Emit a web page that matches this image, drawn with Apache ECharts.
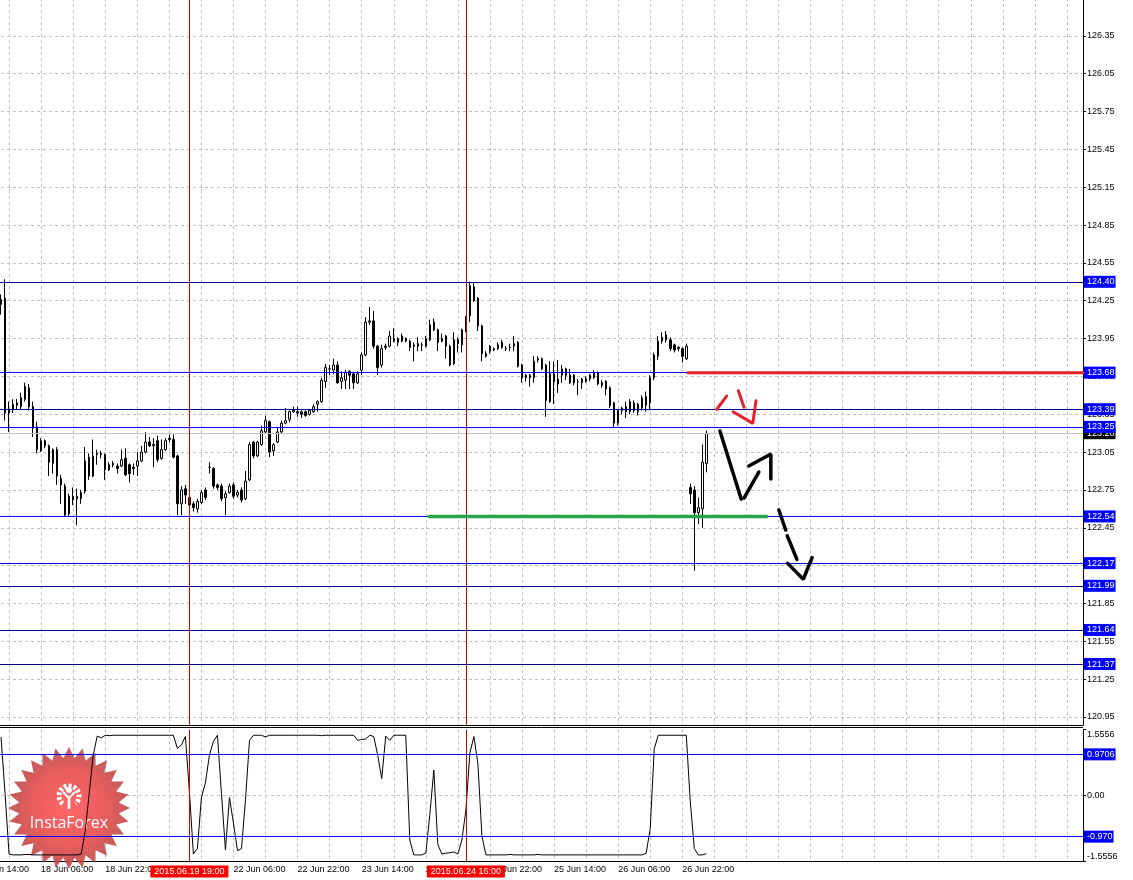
<!DOCTYPE html>
<html><head><meta charset="utf-8">
<script src="https://cdn.jsdelivr.net/npm/echarts@6/dist/echarts.min.js"></script>
<style>html,body{margin:0;padding:0;background:#fff;}#c{width:1133px;height:880px;}</style>
</head><body><div id="c"></div>
<script>
// ---- data (H1 bars, first bar = 17 Jun 20:00) ----
const opens = [
124.22,124.27,123.36,123.39,123.42,123.41,123.47,123.56,123.41,123.25,
123.06,123.14,123.10,122.96,123.07,122.84,122.78,122.56,122.70,122.68,
122.68,122.74,123.01,122.86,123.03,123.04,123.03,122.91,122.96,122.94,
122.94,123.00,122.95,122.93,122.94,122.98,123.05,123.13,123.10,123.14,
123.00,123.07,123.16,123.15,123.02,122.64,122.76,122.69,122.64,122.60,
122.65,122.75,122.93,122.92,122.79,122.78,122.69,122.73,122.79,122.71,
122.75,122.68,122.83,123.13,123.02,123.11,123.21,123.29,123.06,123.13,
123.21,123.28,123.31,123.37,123.37,123.37,123.37,123.35,123.37,123.43,
123.45,123.61,123.71,123.70,123.74,123.61,123.62,123.69,123.67,123.60,
123.70,123.82,124.08,124.09,123.89,123.74,123.88,123.89,123.95,123.92,
123.97,123.95,123.93,123.90,123.89,123.90,123.89,123.94,124.08,124.02,
123.93,123.97,123.89,123.75,123.94,123.90,124.12,124.13,124.36,124.27,
124.05,123.83,123.85,123.87,123.87,123.92,123.87,123.88,123.89,123.92,
123.74,123.66,123.66,123.64,123.79,123.79,123.74,123.45,123.67,123.59,
123.66,123.71,123.66,123.66,123.61,123.60,123.61,123.63,123.64,123.68,
123.60,123.61,123.56,123.44,123.28,123.40,123.41,123.37,123.44,123.43,
123.40,123.42,123.44,123.64,123.81,123.93,123.98,123.94,123.90,123.87,
123.87,123.79,122.77,122.75,122.57,122.60,122.96];
const closes = [
124.26,123.36,123.39,123.43,123.44,123.48,123.57,123.41,123.24,123.07,
123.14,123.10,122.97,123.07,122.86,122.79,122.55,122.70,122.67,122.70,
122.73,122.98,122.86,123.02,123.04,123.03,122.91,122.95,122.95,122.92,
122.99,122.87,122.88,122.92,122.98,123.05,123.13,123.10,123.11,122.99,
123.07,123.14,123.15,123.01,122.64,122.75,122.71,122.63,122.61,122.66,
122.73,122.69,122.93,122.78,122.77,122.68,122.72,122.78,122.70,122.73,
122.67,122.82,123.11,123.02,123.13,123.22,123.30,123.05,123.11,123.21,
123.28,123.30,123.37,123.38,123.36,123.35,123.34,123.38,123.41,123.45,
123.62,123.72,123.71,123.74,123.60,123.64,123.68,123.66,123.60,123.67,
123.82,124.08,124.09,123.89,123.72,123.87,123.89,123.97,123.93,123.95,
123.93,123.93,123.88,123.89,123.91,123.90,123.95,124.06,124.02,123.92,
123.95,123.89,123.74,123.94,123.91,124.02,124.01,124.37,124.25,124.05,
123.83,123.81,123.89,123.86,123.90,123.88,123.87,123.88,123.91,123.73,
123.64,123.64,123.64,123.77,123.78,123.71,123.46,123.67,123.61,123.63,
123.71,123.66,123.60,123.60,123.61,123.63,123.63,123.66,123.68,123.59,
123.58,123.55,123.42,123.28,123.38,123.38,123.37,123.45,123.38,123.37,
123.48,123.49,123.64,123.82,123.93,123.96,123.94,123.87,123.86,123.88,
123.81,123.89,122.72,122.57,122.61,122.97,123.20];
const lows = [
124.14,123.30,123.21,123.36,123.39,123.39,123.45,123.38,123.17,123.04,
123.05,123.08,122.86,122.88,122.79,122.64,122.54,122.54,122.63,122.47,
122.64,122.72,122.83,122.85,122.95,123.00,122.83,122.90,122.93,122.88,
122.93,122.86,122.81,122.87,122.86,122.97,123.04,123.09,122.93,122.97,
122.99,123.06,123.13,123.00,122.55,122.55,122.64,122.59,122.58,122.57,
122.64,122.67,122.88,122.76,122.75,122.66,122.55,122.72,122.68,122.69,
122.65,122.67,122.82,123.00,123.01,123.10,123.20,123.01,123.02,123.12,
123.20,123.27,123.29,123.36,123.33,123.32,123.33,123.34,123.36,123.37,
123.44,123.56,123.66,123.67,123.59,123.55,123.55,123.55,123.55,123.59,
123.66,123.81,124.06,123.87,123.66,123.72,123.86,123.88,123.92,123.89,
123.92,123.92,123.85,123.77,123.85,123.85,123.88,123.93,124.01,123.85,
123.92,123.79,123.73,123.74,123.84,123.84,124.00,124.08,124.24,124.01,
123.77,123.80,123.83,123.85,123.86,123.87,123.85,123.85,123.85,123.72,
123.60,123.61,123.57,123.60,123.76,123.70,123.33,123.44,123.43,123.52,
123.60,123.62,123.59,123.58,123.50,123.55,123.60,123.61,123.63,123.58,
123.56,123.50,123.40,123.24,123.26,123.35,123.32,123.35,123.36,123.34,
123.38,123.37,123.38,123.62,123.78,123.91,123.92,123.85,123.84,123.85,
123.76,123.78,122.64,122.11,122.48,122.45,122.89];
const highs = [
124.30,124.42,123.45,123.47,123.47,123.52,123.60,123.59,123.45,123.29,
123.16,123.15,123.11,123.08,123.09,122.87,122.80,122.72,122.77,122.76,
122.75,123.09,123.04,123.15,123.07,123.06,123.04,122.97,122.98,122.96,
123.07,123.08,122.96,122.96,123.05,123.10,123.21,123.17,123.16,123.18,
123.15,123.16,123.19,123.19,123.03,122.78,122.79,122.73,122.66,122.68,
122.75,122.77,122.97,122.93,122.80,122.80,122.74,122.80,122.81,122.75,
122.77,122.90,123.13,123.14,123.14,123.26,123.34,123.30,123.12,123.25,
123.30,123.40,123.38,123.41,123.41,123.38,123.38,123.39,123.43,123.46,
123.64,123.75,123.74,123.79,123.77,123.69,123.70,123.70,123.68,123.69,
123.84,124.12,124.20,124.17,123.90,123.90,123.91,124.01,124.03,123.96,
123.99,123.96,123.94,123.92,123.96,123.92,123.97,124.10,124.11,124.03,
123.99,123.98,123.90,124.00,123.96,124.03,124.13,124.40,124.39,124.28,
124.06,123.85,123.90,123.88,123.92,123.94,123.89,123.91,123.97,123.93,
123.75,123.67,123.67,123.81,123.81,123.80,123.75,123.77,123.77,123.78,
123.74,123.72,123.71,123.67,123.63,123.64,123.65,123.67,123.70,123.69,
123.62,123.62,123.57,123.45,123.39,123.41,123.45,123.47,123.46,123.44,
123.50,123.53,123.66,123.84,123.97,124.00,124.01,123.96,123.91,123.89,
123.88,123.91,122.80,122.78,122.69,123.11,123.22];
const indicator = [
1.38,0.05,-1.38,-1.40,-1.40,-1.40,-1.39,-1.39,-1.40,-1.40,
-1.40,-1.40,-1.40,-1.40,-1.40,-1.40,-1.40,-1.40,-1.40,-1.40,
-1.38,-0.85,0.05,0.95,1.40,1.36,1.42,1.41,1.42,1.42,
1.42,1.42,1.42,1.42,1.42,1.42,1.42,1.42,1.42,1.42,
1.42,1.42,1.42,1.42,1.11,1.19,1.39,0.10,-1.38,-1.25,
-0.05,0.30,0.95,1.28,1.42,0.05,-1.28,-0.05,-0.65,-1.30,
-1.25,-0.10,1.30,1.42,1.42,1.42,1.38,1.42,1.42,1.42,
1.42,1.42,1.42,1.42,1.42,1.42,1.42,1.42,1.42,1.42,
1.41,1.42,1.42,1.42,1.42,1.42,1.42,1.42,1.42,1.30,
1.32,1.33,1.42,1.39,0.95,0.40,1.40,1.30,1.42,1.42,
1.42,1.42,-1.05,-1.40,-1.40,-1.40,-1.36,-0.45,0.60,-1.15,
-1.38,-1.36,-1.35,-1.33,-1.38,-1.05,-0.35,1.00,1.39,0.75,
-0.95,-1.40,-1.40,-1.40,-1.40,-1.40,-1.40,-1.39,-1.40,-1.40,
-1.40,-1.40,-1.40,-1.40,-1.39,-1.40,-1.40,-1.40,-1.40,-1.40,
-1.40,-1.40,-1.40,-1.40,-1.40,-1.40,-1.40,-1.40,-1.40,-1.40,
-1.40,-1.40,-1.40,-1.40,-1.40,-1.40,-1.40,-1.40,-1.40,-1.40,
-1.40,-1.36,-0.78,1.10,1.42,1.42,1.42,1.42,1.42,1.42,
1.42,1.42,-0.15,-1.25,-1.40,-1.40,-1.37];
// time axis: slot 0 = 17 Jun 14:00, one slot per hour bar; labels every 16 slots
const tickLabels = ['17 Jun 14:00','18 Jun 06:00','18 Jun 22:00','19 Jun 14:00','22 Jun 06:00','22 Jun 22:00',
                    '23 Jun 14:00','24 Jun 06:00','24 Jun 22:00','25 Jun 14:00','26 Jun 06:00','26 Jun 22:00'];
const firstBarSlot = 6;
const totalSlots = 277;
const markerSlots = [53, 122];
const markerLabels = ['2015.06.19 19:00', '2015.06.24 16:00'];
// horizontal levels
const levelValues = [124.40, 123.68, 123.39, 123.20, 123.25, 122.54, 122.17, 121.99, 121.64, 121.37];
const indicatorLevels = [0.9706, -0.9706];
const indicatorLevelLabels = ['0.9706', '-0.970'];
// hand drawings in (slot, price)
const drawGreen = [[112.8,122.54],[197.1,122.54]];
const drawRedLevel = [[177.4,123.68],[276,123.68]];
const drawRedArrow = [
  [[184.6,123.389],[187.1,123.495]],
  [[190.0,123.537],[191.4,123.405]],
  [[188.7,123.370],[193.6,123.278],[194.4,123.458]]];
const drawBlackArrow = [
  [[185.4,123.217],[190.7,122.678]],
  [[191.4,122.686],[195.1,122.892]],
  [[192.6,122.940],[198.1,123.035],[198.1,122.837]],
  [[200.1,122.591],[201.8,122.432]],
  [[202.2,122.387],[204.6,122.200]],
  [[202.3,122.168],[206.2,122.042],[208.4,122.213]]];

// ---- styles ----
const FONT = 'Liberation Sans';
const FS = 9;
const levelLineColors = ['#00008b','#0000ff','#00008b','#c0c0c0','#0000ff','#0000ff','#0000ff','#00008b','#00008b','#00008b'];
const levelLabelBgs   = ['#0000ff','#0000ff','#0000ff','#000000','#0000ff','#0000ff','#0000ff','#0000ff','#0000ff','#0000ff'];

const categories = Array.from({length: totalSlots}, (_, s) => String(s));
const candleData = opens.map((o, i) => [i + firstBarSlot, o, closes[i], lows[i], highs[i]]);
const indData = indicator.map((v, i) => [i + firstBarSlot, v]);
const dashed = {color: '#c0c0c0', width: 1, type: [3, 3]};
const every8 = (idx) => idx % 8 === 0;
const every16 = (idx) => idx % 16 === 0 && idx / 16 < tickLabels.length;

const lvlLabel = (txt, bg) => ({show: true, position: 'end', distance: 1, formatter: txt, color: '#fff',
  backgroundColor: bg, padding: [1, 1, 1, 3], fontSize: FS, lineHeight: 10, fontFamily: FONT});

const mainMark = levelValues.map((v, k) => ({yAxis: v, lineStyle: {color: levelLineColors[k], width: 1, type: 'solid'},
  label: lvlLabel(v.toFixed(2), levelLabelBgs[k])}));
markerSlots.forEach(s => mainMark.push({xAxis: s, lineStyle: {color: '#d00000', width: 1, type: 'solid'}, label: {show: false}}));

const indMark = indicatorLevels.map((v, k) => ({yAxis: v, lineStyle: {color: '#0000ff', width: 1, type: 'solid'},
  label: lvlLabel(indicatorLevelLabels[k], '#0000ff')}));
markerSlots.forEach((s, k) => indMark.push({xAxis: s, lineStyle: {color: '#d00000', width: 1, type: 'solid'},
  label: {show: true, position: 'start', distance: 4, formatter: markerLabels[k], color: '#fff', backgroundColor: '#ff0000',
    padding: [1, 4, 1, 4], fontSize: FS, lineHeight: 10, fontFamily: FONT}}));

const drawSeries = [];
function addDraw(pts, color, width) {
  drawSeries.push({type: 'line', xAxisIndex: 3, yAxisIndex: 0, data: pts, showSymbol: false, symbol: 'none', silent: true, z: 6,
    lineStyle: {color: color, width: width, cap: 'round'}});
}
addDraw(drawGreen, '#2aa44a', 3.5);
addDraw(drawRedLevel, '#e8202a', 3);
drawRedArrow.forEach(p => addDraw(p, '#e8202a', 3));
drawBlackArrow.forEach(p => addDraw(p, '#000000', 3.5));

// logo star
const starPts = [];
for (let k = 0; k < 56; k++) {
  const a = -Math.PI / 2 + k * Math.PI / 28;
  const r = k % 2 === 0 ? 61 : 50;
  starPts.push([69 + r * Math.cos(a), 808 + r * Math.sin(a)]);
}

const chart = echarts.init(document.getElementById('c'));
chart.setOption({
  animation: false,
  backgroundColor: '#ffffff',
  textStyle: {fontFamily: FONT},
  grid: [
    {left: -23, right: 50, top: -2, height: 727, outerBoundsMode: 'none', containLabel: false},
    {left: -23, right: 50, top: -2, height: 719, outerBoundsMode: 'none', containLabel: false},
    {left: -23, right: 50, top: 729.5, height: 132, outerBoundsMode: 'none', containLabel: false}
  ],
  xAxis: [
    {type: 'category', gridIndex: 0, data: categories, boundaryGap: false,
      axisLine: {onZero: false, lineStyle: {color: '#000'}}, axisTick: {show: false}, axisLabel: {show: false},
      splitLine: {show: true, interval: every8, lineStyle: dashed}},
    {type: 'category', gridIndex: 1, data: categories, boundaryGap: false, show: false},
    {type: 'category', gridIndex: 2, data: categories, boundaryGap: false,
      axisLine: {onZero: false, lineStyle: {color: '#000'}}, axisTick: {show: false},
      axisLabel: {interval: every16, formatter: (v, idx) => tickLabels[idx / 16] || '', align: 'left', margin: 4,
        fontSize: FS, color: '#000', fontFamily: FONT},
      splitLine: {show: true, interval: every8, lineStyle: dashed}},
    {type: 'value', gridIndex: 0, min: 0, max: totalSlots - 1, show: false}
  ],
  yAxis: [
    {type: 'value', gridIndex: 0, position: 'right', min: 120.8866, max: 126.65, scale: true,
      axisLine: {show: true, onZero: false, lineStyle: {color: '#000'}}, axisTick: {show: false}, axisLabel: {show: false},
      splitLine: {show: false}},
    {type: 'value', gridIndex: 1, position: 'right', min: 120.95, max: 126.65, interval: 0.3, scale: true,
      axisLine: {show: false, onZero: false}, axisTick: {show: true, length: 3, lineStyle: {color: '#000'}},
      axisLabel: {formatter: v => v.toFixed(2), margin: 4, fontSize: FS, color: '#000', fontFamily: FONT},
      splitLine: {show: true, lineStyle: dashed}},
    {type: 'value', gridIndex: 2, position: 'right', min: -1.5556, max: 1.5556, interval: 1.5556,
      axisLine: {show: true, onZero: false, lineStyle: {color: '#000'}}, axisTick: {show: true, length: 3, lineStyle: {color: '#000'}},
      axisLabel: {margin: 4, fontSize: FS, color: '#000', fontFamily: FONT,
        formatter: v => v > 0.1 ? '{t|1.5556}' : (v < -0.1 ? '{b|-1.5556}' : '0.00'),
        rich: {t: {padding: [10, 0, 0, 0], fontSize: FS, color: '#000', fontFamily: FONT},
               b: {padding: [0, 0, 10, 0], fontSize: FS, color: '#000', fontFamily: FONT}}},
      splitLine: {show: true, showMinLine: false, showMaxLine: false, lineStyle: dashed}}
  ],
  series: [
    {type: 'candlestick', xAxisIndex: 0, yAxisIndex: 0, data: candleData, encode: {x: 0, y: [1, 2, 3, 4]},
      barWidth: 2, silent: true,
      itemStyle: {color: '#ffffff', color0: '#000000', borderColor: '#000000', borderColor0: '#000000', borderWidth: 1},
      markLine: {symbol: 'none', silent: true, animation: false, data: mainMark}},
    {type: 'line', xAxisIndex: 2, yAxisIndex: 2, data: indData, showSymbol: false, symbol: 'none', silent: true,
      lineStyle: {color: '#000', width: 1},
      markLine: {symbol: 'none', silent: true, animation: false, data: indMark}},
    ...drawSeries
  ],
  graphic: [
    {type: 'line', shape: {x1: 0, y1: 727.5, x2: 1083, y2: 727.5}, style: {stroke: '#000', lineWidth: 1}, z: 3},
    {type: 'polygon', shape: {points: starPts}, z: 1,
      style: {fill: new echarts.graphic.RadialGradient(0.5, 0.5, 0.5, [{offset: 0, color: '#ff5050'}, {offset: 0.6, color: '#e84848'}, {offset: 1, color: '#b84444'}]), opacity: 0.88}},
    {type: 'arc', shape: {cx: 69, cy: 796, r: 10, startAngle: Math.PI * 0.72, endAngle: Math.PI * 2.28}, z: 1,
      style: {fill: 'none', stroke: '#ffffff', lineWidth: 5, lineDash: [2.8, 2]}},
    {type: 'circle', shape: {cx: 69, cy: 790, r: 3}, z: 1, style: {fill: '#ffffff'}},
    {type: 'polyline', shape: {points: [[63, 792], [69, 798], [75, 792]]}, z: 1, style: {stroke: '#ffffff', lineWidth: 2.2, fill: 'none'}},
    {type: 'rect', shape: {x: 67.7, y: 797, width: 2.6, height: 12}, z: 1, style: {fill: '#ffffff'}},
    {type: 'text', z: 1, style: {text: 'InstaForex', x: 69, y: 823, fill: '#ffffff', font: '16px "Open Sans"',
      align: 'center', verticalAlign: 'middle', textAlign: 'center', textVerticalAlign: 'middle'}}
  ]
});
</script>
</body></html>
